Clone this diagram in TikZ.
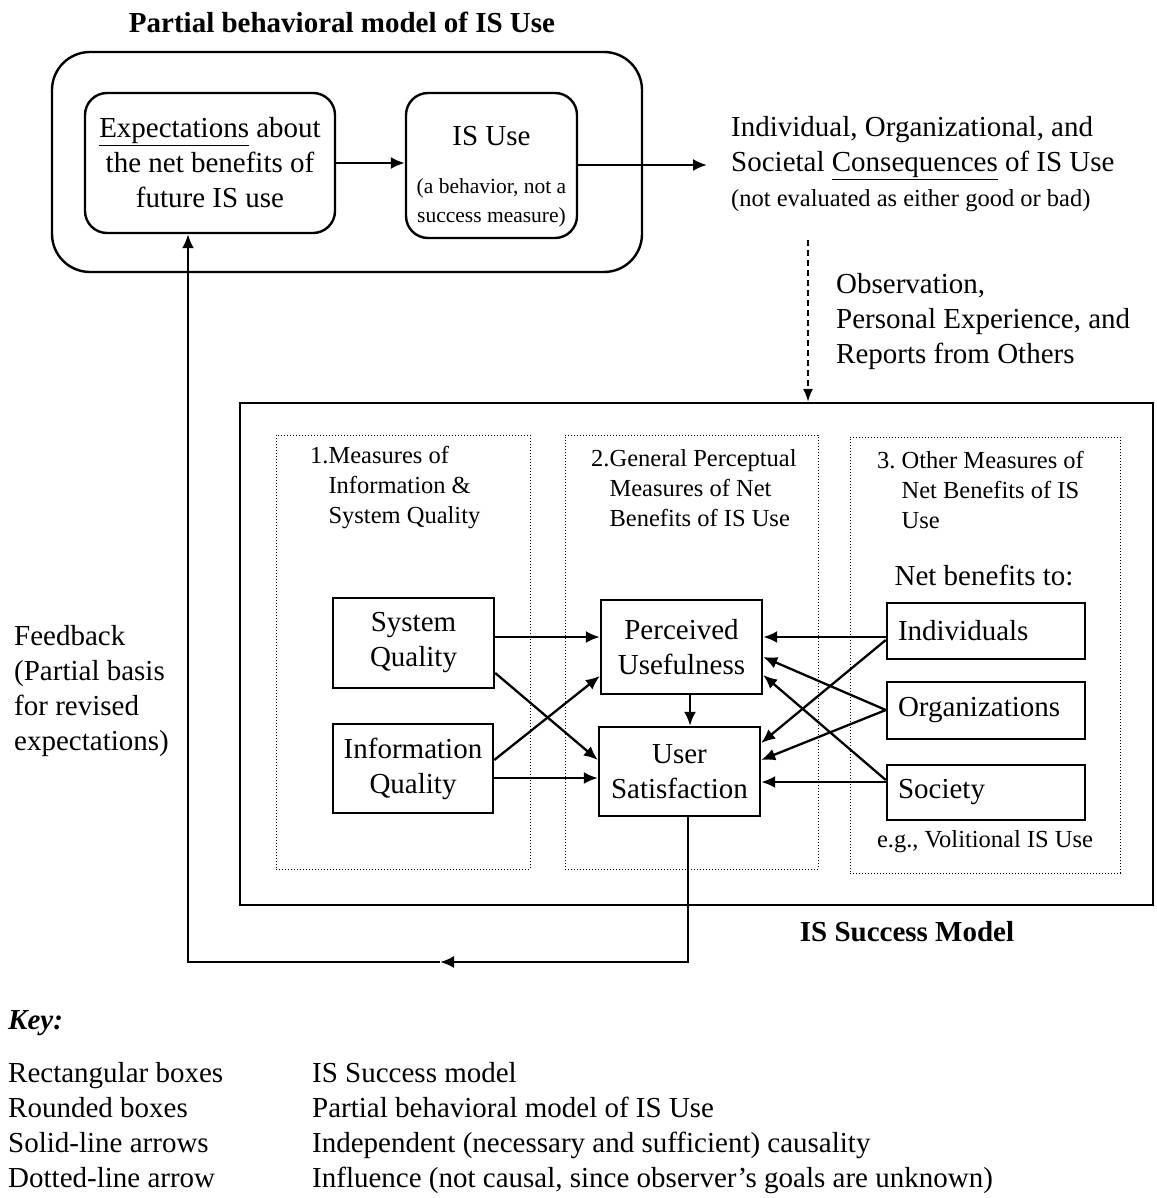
\documentclass[tikz,border=0pt]{standalone}
\usepackage{fontspec}
\setmainfont{Liberation Serif}
\usetikzlibrary{arrows.meta}
\begin{document}
\begin{tikzpicture}[x=1pt,y=-1pt,
  every node/.style={inner sep=0pt},
  big/.style={font=\fontsize{29}{35}\selectfont},
  mid/.style={font=\fontsize{24.5}{30}\selectfont},
  bigbold/.style={font=\fontsize{29}{35}\selectfont\bfseries},
  box/.style={draw, line width=2.4pt, align=center, big},
  rbox/.style={box, rounded corners=22pt},
  dotbox/.style={draw, dotted, line width=1pt},
  arr/.style={line width=2.3pt, -{Latex[length=14pt,width=12pt]}},
  dasharr/.style={line width=1.6pt, dash pattern=on 6pt off 4pt, -{Latex[length=13pt,width=10pt]}}
]
\useasboundingbox (0,0) rectangle (1156,1198);

% ---- partial behavioral model ----
\node[bigbold] (title) at (342,22) {Partial behavioral model of IS Use};
\node[draw, line width=2.4pt, rounded corners=38pt, minimum width=590pt, minimum height=220pt] (outer) at (347,162) {};
\node[rbox, minimum width=250pt, minimum height=140pt] (exp) at (210,163) {\underline{Expectations} about\\the net benefits of\\future IS use};
\node[rbox, minimum width=171pt, minimum height=145pt] (isuse) at (491.5,165.5) {};
\node[big] (isusetext) at (491.5,177) {\begin{tabular}{@{}c@{}}IS Use\\[13pt]\fontsize{21.5}{27}\selectfont(a behavior, not a\\[-6pt]\fontsize{21.5}{27}\selectfont success measure)\end{tabular}};
\draw[arr] (exp.east |- 0,163) -- (isuse.west |- 0,163);

% ---- consequences ----
\coordinate (consin) at (707,165);
\draw[arr] (isuse.east |- consin) -- (consin);
\node[anchor=base west, big] (cons) at (731,137) {\begin{tabular}[t]{@{}l@{}}Individual, Organizational, and\\Societal \underline{Consequences} of IS Use\\\fontsize{24.5}{30}\selectfont(not evaluated as either good or bad)\end{tabular}};

\node[anchor=base west, big] (obstext) at (836,293) {\begin{tabular}[t]{@{}l@{}}Observation,\\Personal Experience, and\\Reports from Others\end{tabular}};

% ---- IS success model ----
\node[draw, line width=2.4pt, minimum width=913pt, minimum height=502pt] (isbox) at (696.5,654) {};
\coordinate (obs) at (808,240);
\draw[dasharr] (obs) -- (obs |- isbox.north);

\node[dotbox, minimum width=254pt, minimum height=434pt] (d1) at (403,652) {};
\node[dotbox, minimum width=253pt, minimum height=434pt] (d2) at (691.5,652) {};
\node[dotbox, minimum width=270pt, minimum height=436pt] (d3) at (985,655) {};

\node[anchor=base west, mid] (h1) at (310,463) {\begin{tabular}[t]{@{}l@{}l@{}}1.&Measures of\\&Information \&\\&System Quality\end{tabular}};
\node[anchor=base west, mid] (h2) at (591,466) {\begin{tabular}[t]{@{}l@{}l@{}}2.&General Perceptual\\&Measures of Net\\&Benefits of IS Use\end{tabular}};
\node[anchor=base west, mid] (h3) at (877,468) {\begin{tabular}[t]{@{}l@{}l@{}}3.\kern6pt&Other Measures of\\&Net Benefits of IS\\&Use\end{tabular}};

\node[big] (nbt) at (984,575) {Net benefits to:};

\node[box, minimum width=161pt, minimum height=90pt] (sq) at (413.5,643) {System\\Quality};
\node[box, minimum width=160pt, minimum height=89pt] (iq) at (413,768.5) {Information\\Quality};
\node[box, minimum width=161pt, minimum height=94pt] (pu) at (681.5,647) {Perceived\\Usefulness};
\node[box, minimum width=161pt, minimum height=89pt] (us) at (679.5,771.5) {User\\Satisfaction};

\node[box, minimum width=198pt, minimum height=56pt, text width=176pt, align=left] (ind) at (986,631) {Individuals};
\node[box, minimum width=198pt, minimum height=57pt, text width=176pt, align=left] (org) at (986,710.5) {Organizations};
\node[box, minimum width=198pt, minimum height=55pt, text width=176pt, align=left] (soc) at (986,792.5) {Society};

\node[mid] (eg) at (985,842) {e.g., Volitional IS Use};
\node[bigbold] (ism) at (907,932) {IS Success Model};

% arrows inside
\draw[arr] (sq.east |- 0,637) -- (pu.west |- 0,637);
\draw[arr] (sq.east |- 0,673) -- (us.west |- 0,760);
\draw[arr] (iq.east |- 0,760) -- (pu.west |- 0,676);
\draw[arr] (iq.east |- 0,778) -- (us.west |- 0,778);
\draw[arr] (690,0 |- pu.south) -- (690,0 |- us.north);
\draw[arr] (ind.west |- 0,637) -- (pu.east |- 0,637);
\draw[arr] (ind.west |- 0,640) -- (us.east |- 0,743);
\draw[arr] (org.west |- 0,710) -- (pu.east |- 0,657);
\draw[arr] (org.west |- 0,710) -- (us.east |- 0,760);
\draw[arr] (soc.west |- 0,780) -- (pu.east |- 0,675);
\draw[arr] (soc.west |- 0,782) -- (us.east |- 0,782);

% feedback
\coordinate (fbmid) at (440,962);
\coordinate (fbcorner) at (188,962);
\draw[arr] (688,0 |- us.south) |- (fbmid);
\draw[arr] (fbmid) -- (fbcorner) -- (fbcorner |- exp.south);
\node[anchor=base west, big] (fbtext) at (14,645) {\begin{tabular}[t]{@{}l@{}}Feedback\\(Partial basis\\for revised\\expectations)\end{tabular}};

% key
\node[anchor=base west, font=\fontsize{29}{35}\selectfont\bfseries\itshape] (key) at (8,1029) {Key:};
\node[anchor=base west, big] (keyl) at (8,1082) {\begin{tabular}[t]{@{}l@{}}Rectangular boxes\\Rounded boxes\\Solid-line arrows\\Dotted-line arrow\end{tabular}};
\node[anchor=base west, big] (keyr) at (312,1082) {\begin{tabular}[t]{@{}l@{}}IS Success model\\Partial behavioral model of IS Use\\Independent (necessary and sufficient) causality\\Influence (not causal, since observer’s goals are unknown)\end{tabular}};
\end{tikzpicture}
\end{document}
